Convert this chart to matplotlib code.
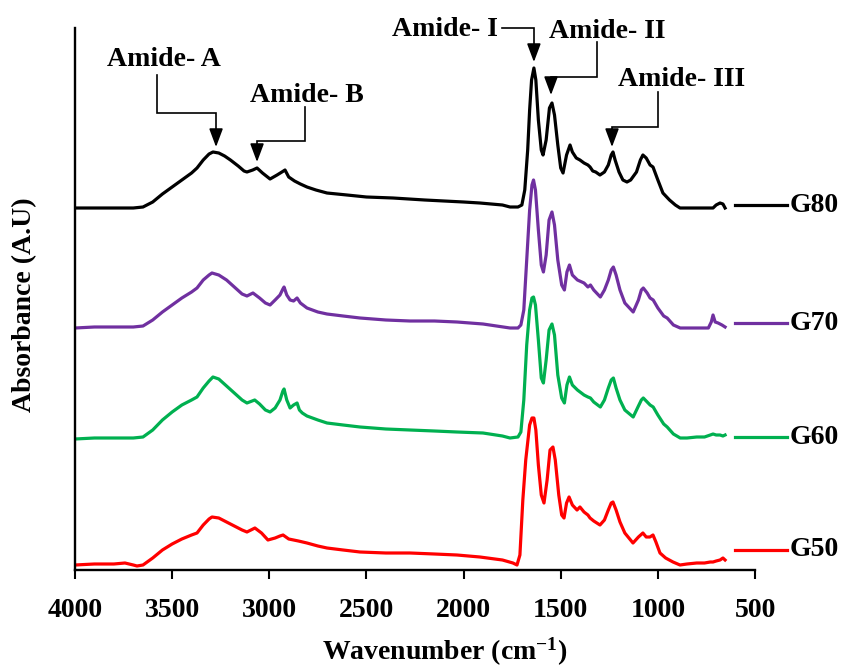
import matplotlib
matplotlib.use("Agg")
import matplotlib.pyplot as plt
import numpy as np

plt.rcParams['font.family'] = ['Liberation Serif', 'DejaVu Serif']
plt.rcParams['font.weight'] = 'bold'
plt.rcParams['mathtext.fontset'] = 'custom'
plt.rcParams['mathtext.rm'] = 'Liberation Serif:bold'
plt.rcParams['mathtext.bf'] = 'Liberation Serif:bold'
plt.rcParams['mathtext.it'] = 'Liberation Serif:bold:italic'

# ---------------- data (absorbance, arbitrary units) ----------------
wn_g80 = [4000, 3900, 3800, 3700, 3650, 3600, 3550, 3500, 3450, 3400, 3372, 3340, 3310, 3290, 3260, 3230,
          3200, 3160, 3130, 3115, 3085, 3063, 3035, 2996, 2960, 2935, 2919, 2900, 2870, 2840, 2806, 2760,
          2703, 2600, 2500, 2363, 2200, 2000, 1916, 1800, 1761, 1720, 1700, 1685, 1670, 1660, 1650, 1638,
          1628, 1615, 1600, 1591, 1575, 1558, 1545, 1532, 1515, 1500, 1488, 1470, 1452, 1440, 1420, 1401,
          1380, 1360, 1349, 1335, 1320, 1298, 1275, 1255, 1240, 1231, 1220, 1200, 1180, 1159, 1140, 1110,
          1090, 1077, 1060, 1040, 1025, 1000, 974, 940, 910, 886, 850, 800, 760, 716, 700, 680, 665, 654]
ab_g80 = [0.00, 0.00, 0.00, 0.00, 0.01, 0.06, 0.14, 0.21, 0.28, 0.35, 0.40, 0.48, 0.54, 0.56, 0.55, 0.52,
          0.48, 0.42, 0.37, 0.36, 0.38, 0.40, 0.35, 0.29, 0.33, 0.36, 0.38, 0.31, 0.27, 0.24, 0.21, 0.18,
          0.15, 0.13, 0.11, 0.10, 0.08, 0.06, 0.05, 0.03, 0.01, 0.01, 0.03, 0.18, 0.58, 0.98, 1.28, 1.40,
          1.28, 0.88, 0.58, 0.53, 0.68, 1.00, 1.05, 0.93, 0.63, 0.40, 0.35, 0.53, 0.63, 0.56, 0.50, 0.48,
          0.45, 0.43, 0.41, 0.37, 0.36, 0.33, 0.36, 0.43, 0.53, 0.56, 0.48, 0.36, 0.28, 0.26, 0.28, 0.36,
          0.48, 0.53, 0.50, 0.43, 0.41, 0.28, 0.15, 0.08, 0.03, 0.00, 0.00, 0.00, 0.00, 0.00, 0.03, 0.05, 0.04, 0.00]

wn_g70 = [4000, 3900, 3800, 3700, 3650, 3600, 3550, 3500, 3450, 3400, 3372, 3340, 3310, 3295, 3260, 3220,
          3180, 3140, 3115, 3084, 3050, 3020, 2996, 2970, 2945, 2930, 2924, 2910, 2893, 2875, 2857, 2840,
          2806, 2750, 2703, 2620, 2533, 2400, 2276, 2150, 2034, 1900, 1761, 1720, 1705, 1690, 1675, 1660,
          1648, 1640, 1630, 1615, 1600, 1589, 1575, 1560, 1545, 1532, 1515, 1495, 1481, 1468, 1455, 1440,
          1414, 1380, 1360, 1347, 1330, 1296, 1275, 1255, 1240, 1229, 1215, 1195, 1170, 1127, 1100, 1085,
          1075, 1055, 1040, 1024, 1000, 970, 952, 920, 885, 850, 800, 740, 725, 716, 705, 690, 670, 654]
ab_g70 = [0.00, 0.01, 0.01, 0.01, 0.02, 0.08, 0.16, 0.23, 0.30, 0.36, 0.40, 0.48, 0.53, 0.55, 0.53, 0.48,
          0.41, 0.34, 0.32, 0.35, 0.30, 0.25, 0.23, 0.28, 0.33, 0.39, 0.41, 0.33, 0.28, 0.27, 0.30, 0.25,
          0.20, 0.16, 0.14, 0.12, 0.10, 0.08, 0.07, 0.07, 0.06, 0.04, 0.00, 0.00, 0.03, 0.18, 0.68, 1.18,
          1.43, 1.48, 1.38, 0.98, 0.63, 0.56, 0.73, 1.08, 1.16, 1.03, 0.68, 0.43, 0.38, 0.56, 0.63, 0.53,
          0.48, 0.45, 0.41, 0.43, 0.38, 0.31, 0.38, 0.48, 0.58, 0.61, 0.53, 0.38, 0.25, 0.16, 0.28, 0.38,
          0.40, 0.35, 0.30, 0.28, 0.20, 0.12, 0.10, 0.03, 0.00, 0.00, 0.00, 0.00, 0.06, 0.13, 0.06, 0.05, 0.03, 0.01]

wn_g60 = [4000, 3900, 3800, 3700, 3650, 3600, 3550, 3500, 3450, 3400, 3372, 3340, 3310, 3290, 3260, 3220,
          3180, 3140, 3115, 3075, 3050, 3020, 2996, 2970, 2945, 2930, 2924, 2910, 2893, 2875, 2857, 2845,
          2830, 2806, 2750, 2703, 2620, 2533, 2400, 2276, 2150, 2034, 1900, 1800, 1761, 1720, 1705, 1690,
          1675, 1660, 1648, 1640, 1630, 1615, 1600, 1589, 1575, 1560, 1545, 1532, 1515, 1495, 1481, 1468,
          1455, 1440, 1414, 1380, 1360, 1347, 1330, 1296, 1275, 1255, 1240, 1229, 1215, 1195, 1170, 1127,
          1100, 1085, 1075, 1055, 1040, 1024, 1000, 970, 952, 920, 885, 850, 800, 760, 730, 716, 700, 680, 665, 654]
ab_g60 = [0.00, 0.01, 0.01, 0.01, 0.02, 0.09, 0.19, 0.27, 0.34, 0.39, 0.42, 0.51, 0.58, 0.62, 0.60, 0.53,
          0.46, 0.39, 0.36, 0.39, 0.35, 0.29, 0.27, 0.31, 0.39, 0.48, 0.50, 0.39, 0.31, 0.34, 0.36, 0.29,
          0.26, 0.23, 0.19, 0.16, 0.14, 0.12, 0.10, 0.09, 0.08, 0.07, 0.06, 0.03, 0.01, 0.02, 0.07, 0.39,
          0.94, 1.29, 1.41, 1.42, 1.34, 0.99, 0.61, 0.56, 0.79, 1.09, 1.15, 1.04, 0.64, 0.41, 0.36, 0.54,
          0.62, 0.54, 0.49, 0.44, 0.42, 0.41, 0.37, 0.32, 0.39, 0.51, 0.59, 0.61, 0.51, 0.39, 0.29, 0.22,
          0.33, 0.39, 0.41, 0.37, 0.34, 0.32, 0.24, 0.15, 0.12, 0.05, 0.01, 0.01, 0.02, 0.02, 0.04, 0.05, 0.04, 0.04, 0.03, 0.04]

wn_g50 = [4000, 3900, 3800, 3743, 3700, 3681, 3650, 3600, 3550, 3500, 3450, 3400, 3372, 3340, 3310, 3295,
          3260, 3220, 3180, 3140, 3115, 3074, 3040, 3007, 2970, 2945, 2929, 2900, 2850, 2806, 2750, 2703,
          2620, 2533, 2400, 2276, 2150, 2034, 1916, 1800, 1746, 1725, 1710, 1695, 1680, 1660, 1648, 1638,
          1628, 1615, 1600, 1586, 1570, 1555, 1540, 1528, 1510, 1495, 1483, 1470, 1457, 1440, 1416, 1401,
          1380, 1360, 1349, 1330, 1298, 1275, 1255, 1240, 1231, 1215, 1195, 1170, 1128, 1100, 1077, 1060,
          1041, 1025, 1010, 989, 960, 922, 886, 850, 800, 760, 730, 716, 700, 680, 665, 654]
ab_g50 = [0.00, 0.01, 0.01, 0.02, 0.00, -0.01, 0.00, 0.07, 0.15, 0.21, 0.26, 0.30, 0.32, 0.40, 0.46, 0.48,
          0.47, 0.43, 0.39, 0.35, 0.33, 0.37, 0.32, 0.25, 0.27, 0.29, 0.30, 0.26, 0.24, 0.22, 0.19, 0.17,
          0.15, 0.13, 0.12, 0.12, 0.11, 0.10, 0.08, 0.05, 0.02, 0.00, 0.10, 0.65, 1.05, 1.40, 1.47, 1.47,
          1.35, 1.00, 0.70, 0.62, 0.85, 1.15, 1.18, 1.05, 0.70, 0.50, 0.47, 0.62, 0.68, 0.60, 0.55, 0.58,
          0.53, 0.50, 0.47, 0.44, 0.40, 0.45, 0.55, 0.62, 0.63, 0.55, 0.43, 0.32, 0.22, 0.28, 0.32, 0.28,
          0.28, 0.30, 0.23, 0.12, 0.07, 0.03, 0.00, 0.01, 0.02, 0.02, 0.03, 0.03, 0.04, 0.05, 0.07, 0.05]

series_names = ['G80', 'G70', 'G60', 'G50']
series_wn = [wn_g80, wn_g70, wn_g60, wn_g50]
series_ab = [ab_g80, ab_g70, ab_g60, ab_g50]
offsets = [3.62, 2.42, 1.31, 0.05]
legend_y = [3.65, 2.47, 1.33, 0.20]
colors = ['#000000', '#7030A0', '#00B050', '#FF0000']

xticks = [4000, 3500, 3000, 2500, 2000, 1500, 1000, 500]

# ---------------- figure ----------------
fig = plt.figure(figsize=(8.43, 6.71), dpi=100)
ax = fig.add_axes([75 / 843, 1 - 570 / 671, 680 / 843, 542 / 671])

for name, wn, ab, off, ly, c in zip(series_names, series_wn, series_ab, offsets, legend_y, colors):
    ax.plot(wn, np.array(ab) + off, color=c, lw=2.3, solid_joinstyle='round')
    ax.plot([603, 335], [ly, ly], color=c, lw=2.3, clip_on=False)
    ax.text(320, ly, name, color='black', fontsize=20, fontweight='bold',
            ha='left', va='center', clip_on=False)

ax.set_xlim(4000, 500)
ax.set_ylim(0, 5.42)
ax.set_xticks(xticks)
ax.set_xticklabels([str(t) for t in xticks], fontsize=20, fontweight='bold')
ax.set_yticks([])
ax.tick_params(axis='x', direction='out', length=6.5, width=1.5, pad=14)
for s in ['top', 'right']:
    ax.spines[s].set_visible(False)
for s in ['left', 'bottom']:
    ax.spines[s].set_linewidth(1.7)

# ---------------- annotations ----------------
def callout(label, tx, ty, path, tip):
    ax.text(tx, ty, label, fontsize=20, fontweight='bold', ha='center', va='center', clip_on=False)
    xs = [p[0] for p in path]
    ys = [p[1] for p in path]
    ax.plot(xs, ys, color='black', lw=1.2, clip_on=False, solid_joinstyle='miter')
    ax.annotate('', xy=tip, xytext=path[-1],
                arrowprops=dict(arrowstyle='-|>,head_length=0.8,head_width=0.3',
                                color='black', lw=1.2, shrinkA=0, shrinkB=0, mutation_scale=14),
                annotation_clip=False)

callout('Amide- A', 3542, 5.10, [(3578, 4.95), (3578, 4.57), (3274, 4.57), (3274, 4.40)], (3274, 4.23))
callout('Amide- B', 2806, 4.75, [(2816, 4.63), (2816, 4.29), (3063, 4.29), (3063, 4.25)], (3063, 4.08))
callout('Amide- I', 2096, 5.40, [(1802, 5.42), (1638, 5.42), (1638, 5.25)], (1638, 5.08))
callout('Amide- II', 1262, 5.38, [(1313, 5.28), (1313, 4.93), (1550, 4.93), (1550, 4.90)], (1550, 4.75))
callout('Amide- III', 876, 4.90, [(999, 4.78), (999, 4.43), (1236, 4.43), (1236, 4.40)], (1236, 4.23))

fig.text(445 / 843, 1 - 652 / 671, r'Wavenumber (cm$^{\mathbf{-1}}$)', fontsize=20,
         fontweight='bold', ha='center', va='center')
fig.text(25 / 843, 1 - 305 / 671, 'Absorbance (A.U)', fontsize=20, fontweight='bold',
         ha='center', va='center', rotation=90)

fig.savefig('out.png', dpi=100)
